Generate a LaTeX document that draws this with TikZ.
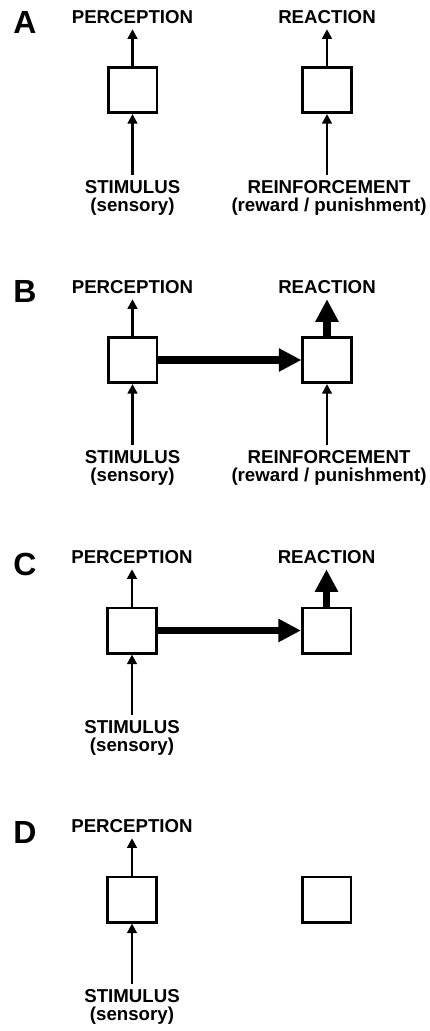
\documentclass[tikz,border=0pt]{standalone}
\usepackage{fontspec}
\setmainfont{Liberation Sans}
\usetikzlibrary{arrows.meta,calc}
\begin{document}
\begin{tikzpicture}[x=0.75pt,y=-0.75pt,
  label text/.style={font=\fontsize{14}{13.8}\selectfont\bfseries, inner sep=0pt, align=center},
  panel letter/.style={font=\fontsize{24}{26}\selectfont\bfseries, inner sep=0pt},
  unit box/.style={draw, line width=1.9pt, minimum width=36.4pt, minimum height=34.1pt, inner sep=0pt, fill=white},
  thin arrow/.style={line width=1.8pt, -{Triangle[width=7.2pt,length=7.2pt]}},
  thick arrow/.style={line width=5.4pt, -{Triangle[width=16.5pt,length=17pt]}}]
\useasboundingbox (0,0) rectangle (429,1031);

% ---------- Panel A ----------
\node[panel letter] (letA) at (25,22) {A};
\node[unit box] (inA) at (132.5,90) {};
\node[unit box] (outA) at (327,90) {};
\node[label text] (percA) at (132.5,17) {PERCEPTION};
\node[label text] (reacA) at (327,17) {REACTION};
\node[label text, anchor=north] (stimA) at (132.5,180) {STIMULUS\\(sensory)};
\node[label text, anchor=north] (reinA) at (329,180) {REINFORCEMENT\\(reward / punishment)};
\draw[thin arrow] (inA.north) -- ([yshift=-4pt]percA.south);
\draw[thin arrow] (outA.north) -- ([yshift=-4pt]reacA.south);
\draw[thin arrow] ([yshift=3.75pt]stimA.north) -- (inA.south);
\draw[thin arrow] ($(outA.south |- reinA.north)+(0,-5)$) -- (outA.south);

% ---------- Panel B ----------
\node[panel letter] (letB) at (25,291) {B};
\node[unit box] (inB) at (132.5,360) {};
\node[unit box] (outB) at (327,360) {};
\node[label text] (percB) at (132.5,287) {PERCEPTION};
\node[label text] (reacB) at (327,287) {REACTION};
\node[label text, anchor=north] (stimB) at (132.5,450) {STIMULUS\\(sensory)};
\node[label text, anchor=north] (reinB) at (329,450) {REINFORCEMENT\\(reward / punishment)};
\draw[thin arrow] (inB.north) -- ([yshift=-4pt]percB.south);
\draw[thick arrow] (outB.north) -- ([yshift=-4pt]reacB.south);
\draw[thin arrow] ([yshift=3.75pt]stimB.north) -- (inB.south);
\draw[thin arrow] ($(outB.south |- reinB.north)+(0,-5)$) -- (outB.south);
\draw[thick arrow] (inB.east) -- (outB.west);

% ---------- Panel C ----------
\node[panel letter] (letC) at (25,564) {C};
\node[unit box] (inC) at (132,630.5) {};
\node[unit box] (outC) at (326.5,630.5) {};
\node[label text] (percC) at (132,557) {PERCEPTION};
\node[label text] (reacC) at (326.5,557) {REACTION};
\node[label text, anchor=north] (stimC) at (132,720) {STIMULUS\\(sensory)};
\draw[thin arrow] (inC.north) -- ([yshift=-4pt]percC.south);
\draw[thick arrow] (outC.north) -- ([yshift=-4pt]reacC.south);
\draw[thin arrow] ([yshift=3.75pt]stimC.north) -- (inC.south);
\draw[thick arrow] (inC.east) -- (outC.west);

% ---------- Panel D ----------
\node[panel letter] (letD) at (25,832) {D};
\node[unit box] (inD) at (132,899.5) {};
\node[unit box] (outD) at (326.5,899.5) {};
\node[label text] (percD) at (132,826) {PERCEPTION};
\node[label text, anchor=north] (stimD) at (132,989) {STIMULUS\\(sensory)};
\draw[thin arrow] (inD.north) -- ([yshift=-4pt]percD.south);
\draw[thin arrow] ([yshift=3.75pt]stimD.north) -- (inD.south);
\end{tikzpicture}
\end{document}
